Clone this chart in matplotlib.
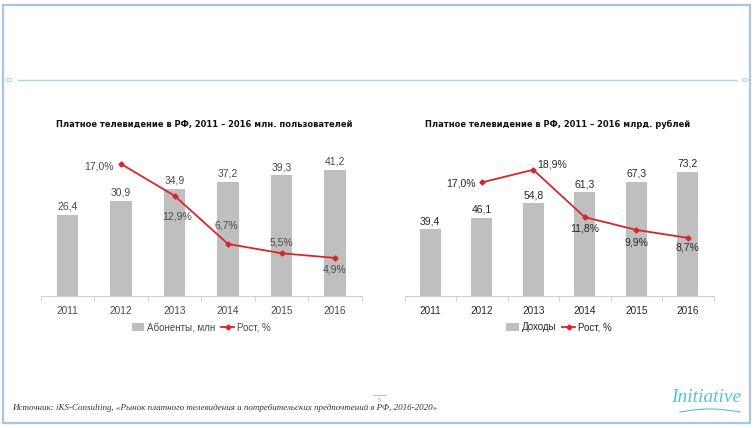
import matplotlib
matplotlib.use("Agg")
import matplotlib.pyplot as plt
from matplotlib.patches import Rectangle, Circle, Patch
from matplotlib.lines import Line2D
import numpy as np

years = ["2011", "2012", "2013", "2014", "2015", "2016"]
subs = [26.4, 30.9, 34.9, 37.2, 39.3, 41.2]
subs_growth = [None, 17.0, 12.9, 6.7, 5.5, 4.9]
rev = [39.4, 46.1, 54.8, 61.3, 67.3, 73.2]
rev_growth = [None, 17.0, 18.9, 11.8, 9.9, 8.7]

title_left = "Платное телевидение в РФ, 2011 – 2016 млн. пользователей"
title_right = "Платное телевидение в РФ, 2011 – 2016 млрд. рублей"
leg_left = "Абоненты, млн"
leg_right = "Доходы"
leg_growth = "Рост, %"
source = "Источник: iKS-Consulting, «Рынок платного телевидения и потребительских предпочтений в РФ, 2016-2020»"

W, H = 754, 428
fig = plt.figure(figsize=(W / 100, H / 100), dpi=100)
fig.patch.set_facecolor("white")

def px_rect(x0, ytop, w, h):
    return [x0 / W, (H - ytop - h) / H, w / W, h / H]

BAR = "#bfbfbf"
RED = "#d7262b"

def draw(rect, vals, growth, ymax_bar, ymax_pct, title, leg_label, pct_offsets, txtcol, title_x):
    ax = fig.add_axes(rect)
    x = np.arange(len(years))
    ax.bar(x, vals, width=0.4, color=BAR, zorder=2)
    ax.set_xlim(-0.5, len(years) - 0.5)
    ax.set_ylim(0, ymax_bar)
    for s in ["top", "right", "left"]:
        ax.spines[s].set_visible(False)
    ax.spines["bottom"].set_color("#d0d0d0")
    ax.spines["bottom"].set_linewidth(0.8)
    ax.set_yticks([])
    ax.set_xticks(x)
    ax.set_xticklabels(years, fontsize=7.2, color=txtcol, family="Liberation Sans")
    ax.tick_params(axis="x", length=0, pad=7)
    ax.set_xticks(np.arange(len(years) + 1) - 0.5, minor=True)
    ax.tick_params(axis="x", which="minor", length=3.5, color="#d0d0d0", width=0.8)
    for xi, v in zip(x, vals):
        ax.annotate(f"{v:.1f}".replace(".", ","), (xi, v), xytext=(0, 6), textcoords="offset points",
                    ha="center", va="center", fontsize=7.5, color=txtcol, family="Liberation Sans")
    ax2 = ax.twinx()
    ax2.set_ylim(0, ymax_pct)
    ax2.axis("off")
    gx = [xi for xi, g in zip(x, growth) if g is not None]
    gy = [g for g in growth if g is not None]
    ax2.plot(gx, gy, color=RED, lw=1.3, marker="D", ms=2.6, zorder=3)
    for xi, g, (dx, dy, ha) in zip(gx, gy, pct_offsets):
        ax2.annotate(f"{g:.1f}%".replace(".", ","), (xi, g), xytext=(dx, dy), textcoords="offset points",
                     ha=ha, va="center", fontsize=7.5, color=txtcol, family="Liberation Sans")
    fig.text(title_x / W, 1 - 124 / H, title, ha="center", va="center", fontsize=6.7,
             fontweight="bold", fontstretch="condensed", family="DejaVu Sans", color="#111111")
    handles = [Patch(facecolor=BAR, edgecolor="none"),
               Line2D([0], [0], color=RED, lw=1.3, marker="D", ms=2.6)]
    leg = ax.legend(handles, [leg_label, leg_growth], loc="center", bbox_to_anchor=(0.5, -0.215),
                    ncol=2, frameon=False, handlelength=1.3, handleheight=0.9,
                    columnspacing=0.6, handletextpad=0.3, prop={"family": "Liberation Sans", "size": 7})
    for t in leg.get_texts():
        t.set_color(txtcol)
    return ax

# left chart: baseline at y=296 px, top at 150 px
draw(px_rect(40.75, 150, 321, 146), subs, subs_growth, 146 / 3.07, 146 / 7.77,
     title_left, leg_left,
     [(-5, -2, "right"), (2, -15, "center"), (-1, 13, "center"), (0, 7.5, "center"), (0, -8, "center")],
     "#4a4a4a", 204)
# right chart
draw(px_rect(404.5, 150, 309, 146), rev, rev_growth, 146 / 1.69, 146 / 6.68,
     title_right, leg_right,
     [(-4, -1, "right"), (3, 4, "left"), (0, -8, "center"), (0, -9, "center"), (0, -7, "center")],
     "#262626", 558)

# decorations
border = Rectangle((3 / W, 1 - 423 / H), 747 / W, 418 / H, transform=fig.transFigure,
                   fill=False, edgecolor="#a9c3e0", lw=1.6)
fig.add_artist(border)
fig.add_artist(Line2D([18 / W, 737 / W], [1 - 80 / H, 1 - 80 / H], transform=fig.transFigure,
                      color="#a9d8df", lw=1.0))
for cx in (9, 745):
    fig.add_artist(Circle((cx / W, 1 - 80 / H), 2.8 / W, transform=fig.transFigure,
                          fill=False, edgecolor="#a9d8df", lw=0.8))
fig.text(12 / W, 1 - 408 / H, source, ha="left", va="center", fontsize=6.5,
         style="italic", family="Liberation Serif", color="#333333")
fig.add_artist(Line2D([373 / W, 385 / W], [1 - 395 / H, 1 - 395 / H], transform=fig.transFigure,
                      color="#a9c3e0", lw=0.8))
fig.text(379 / W, 1 - 400 / H, "5", ha="center", va="center", fontsize=4, color="#808080",
         family="Liberation Serif")
fig.text(706 / W, 1 - 398 / H, "Initiative", ha="center", va="center", fontsize=14,
         style="italic", family="Liberation Serif", color="#5bbde0")
t = np.linspace(0, 1, 50)
fig.add_artist(Line2D((680 + 60 * t) / W, 1 - (412 - 3 * np.sin(np.pi * t)) / H,
                      transform=fig.transFigure, color="#5bbde0", lw=0.8))

fig.savefig("out.png", dpi=100, facecolor="white")
